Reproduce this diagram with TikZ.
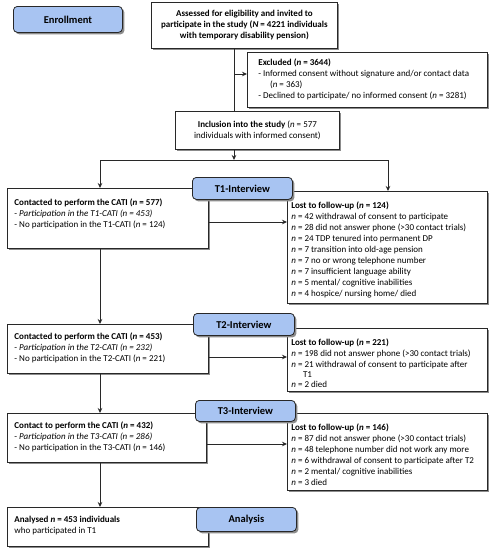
\documentclass[tikz,border=0pt]{standalone}
\usepackage{fontspec}
\setmainfont{Carlito}
\usetikzlibrary{shadows,arrows.meta}
\definecolor{tabblue}{RGB}{168,196,242}
\definecolor{lineg}{RGB}{40,40,40}
\tikzset{
  x=1pt,y=-1pt,
  shad/.style={drop shadow={shadow xshift=2pt,shadow yshift=-2pt,fill=black!45,opacity=1}},
  box/.style={draw=lineg,line width=0.8pt,fill=white,shad,anchor=north west,inner ysep=0pt,font=\fontsize{9}{11}\selectfont},
  cbox/.style={draw=lineg,line width=0.8pt,fill=white,shad,anchor=north west,inner sep=0pt,align=center,font=\fontsize{9}{11}\selectfont},
  tabbox/.style={draw=lineg,line width=0.8pt,fill=tabblue,shad,rounded corners=4pt,anchor=north west,inner sep=0pt,font=\fontsize{10.5}{12}\selectfont\bfseries,align=center},
  conn/.style={draw=lineg,line width=0.8pt},
  arr/.style={conn,-{Stealth[length=5pt,width=4.5pt]}}
}
% name, x, y, w, h, left pad, first baseline, content
\newcommand{\fbx}[8]{%
  \node[box,inner xsep=#6pt,minimum width=#4pt,minimum height=#5pt] (#1) at (#2,#3)
  {\parbox[t][#5pt][t]{\dimexpr#4pt-2\dimexpr#6pt\relax\relax}{\raggedright\rule{0pt}{#7pt}\ignorespaces#8}};}
\newcommand{\tb}[6]{%
  \node[tabbox,minimum width=#4pt,minimum height=#5pt] (#1) at (#2,#3) {#6};}
\newcommand{\nn}{\textit{n}}
\begin{document}
\begin{tikzpicture}
\useasboundingbox (0,0) rectangle (492,550);
\tb{enr}{13}{6}{109}{26}{Enrollment}
\node[cbox,minimum width=186pt,minimum height=46pt,font=\fontsize{9}{11}\selectfont\bfseries] (ass) at (151,2)
  {Assessed for eligibility and invited to\\ participate in the study (\textit{N} = 4221 individuals\\ with temporary disability pension)};
\fbx{exc}{247}{52}{240}{55}{11}{13}{\textbf{Excluded (\textit{n} = 3644)}\\
- Informed consent without signature and/or contact data\\
\hspace*{1.3em}(\nn{} = 363)\\
- Declined to participate/ no informed consent (\nn{} = 3281)}
\node[cbox,minimum width=164pt,minimum height=38pt] (inc) at (175,111)
  {\textbf{Inclusion into the study} (\nn{} = 577\\ individuals with informed consent)};
% T1
\fbx{c1}{7}{188}{201}{60}{7}{17}{\textbf{Contacted to perform the CATI (\textit{n} = 577)}\\
- \textit{Participation in the T1-CATI (n = 453)}\\
- No participation in the T1-CATI (\nn{} = 124)}
\fbx{l1}{287}{191}{200}{112}{4}{17}{\textbf{Lost to follow-up (\textit{n} = 124)}\\
\nn{} = 42 withdrawal of consent to participate\\
\nn{} = 28 did not answer phone (>30 contact trials)\\
\nn{} = 24 TDP tenured into permanent DP\\
\nn{} = 7 transition into old-age pension\\
\nn{} = 7 no or wrong telephone number\\
\nn{} = 7 insufficient language ability\\
\nn{} = 5 mental/ cognitive inabilities\\
\nn{} = 4 hospice/ nursing home/ died}
\tb{t1}{192}{177}{100}{22}{T1-Interview}
% T2
\fbx{c2}{7}{324}{201}{49}{7}{15}{\textbf{Contacted to perform the CATI (\textit{n} = 453)}\\
- \textit{Participation in the T2-CATI (n = 232)}\\
- No participation in the T2-CATI (\nn{} = 221)}
\fbx{l2}{287}{328}{200}{63}{4}{17}{\textbf{Lost to follow-up (\textit{n} = 221)}\\
\nn{} = 198 did not answer phone (>30 contact trials)\\
\nn{} = 21 withdrawal of consent to participate after\\[-1pt]
\hspace*{1.3em}T1\\[-1pt]
\nn{} = 2 died}
\tb{t2}{193}{313}{101}{22}{T2-Interview}
% T3
\fbx{c3}{7}{413}{199}{49}{7}{15}{\textbf{Contact to perform the CATI (\textit{n} = 432)}\\
- \textit{Participation in the T3-CATI (n = 286)}\\
- No participation in the T3-CATI (\nn{} = 146)}
\fbx{l3}{287}{413}{200}{77}{4}{17}{\textbf{Lost to follow-up (\textit{n} = 146)}\\
\nn{} = 87 did not answer phone (>30 contact trials)\\
\nn{} = 48 telephone number did not work any more\\
\nn{} = 6 withdrawal of consent to participate after T2\\
\nn{} = 2 mental/ cognitive inabilities\\
\nn{} = 3 died}
\tb{t3}{195}{400}{100}{21}{T3-Interview}
% Analysis
\fbx{ana}{7}{507}{201}{39}{7}{15}{\textbf{Analysed \textit{n} = 453 individuals}\\ who participated in T1}
\tb{t4}{196}{507}{100}{24}{Analysis}
% connectors
\coordinate (j0) at (234,160);
\coordinate (jl) at (100,160);
\coordinate (jr) at (388,160);
\draw[conn] (ass.south -| j0) -- (inc.north -| j0);
\draw[arr] (234,74) -- (exc.west |- 0,74);
\draw[arr] (inc.south -| j0) -- (j0);
\draw[conn] (jl) -- (jr);
\draw[arr] (jl) -- (c1.north -| jl);
\draw[arr] (jr) -- (l1.north -| jr);
\draw[arr] (c1.east |- 0,222) -- (l1.west |- 0,222);
\draw[arr] (c1.south -| jl) -- (c2.north -| jl);
\draw[arr] (c2.east |- 0,357) -- (l2.west |- 0,357);
\draw[arr] (c2.south -| jl) -- (c3.north -| jl);
\draw[arr] (c3.east |- 0,444) -- (l3.west |- 0,444);
\draw[arr] (c3.south -| jl) -- (ana.north -| jl);
\end{tikzpicture}
\end{document}
